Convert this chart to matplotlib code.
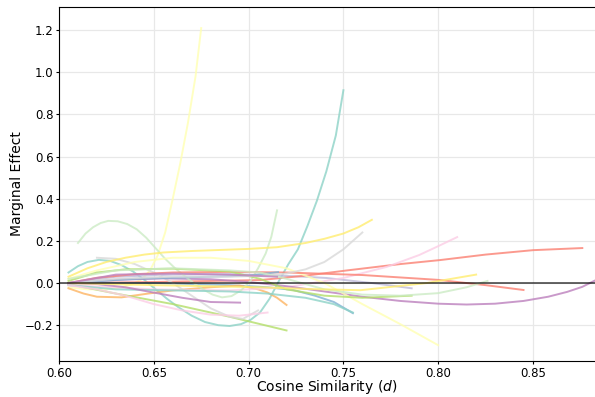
import matplotlib
matplotlib.use("Agg")
import matplotlib.pyplot as plt

# marginal effect curves, one per group (x = cosine similarity, y = effect)
teal_x = [0.605, 0.61, 0.615, 0.621, 0.627, 0.633, 0.639, 0.645, 0.651, 0.657, 0.663, 0.67, 0.677, 0.684, 0.69,
          0.696, 0.701, 0.706, 0.711, 0.716, 0.721, 0.726, 0.731, 0.736, 0.741, 0.746, 0.75]
teal_y = [0.05, 0.08, 0.10, 0.11, 0.105, 0.085, 0.055, 0.015, -0.03, -0.075, -0.115, -0.155, -0.185, -0.2, -0.204,
          -0.195, -0.175, -0.14, -0.075, 0.01, 0.09, 0.16, 0.27, 0.39, 0.53, 0.70, 0.915]

paleyellow_x = [0.605, 0.615, 0.625, 0.633, 0.639, 0.644, 0.648, 0.652, 0.656, 0.66, 0.664, 0.668, 0.672, 0.675]
paleyellow_y = [-0.02, -0.03, -0.03, -0.02, -0.005, 0.02, 0.06, 0.13, 0.24, 0.40, 0.57, 0.76, 0.98, 1.21]

lavender_x = [0.605, 0.63, 0.66, 0.69, 0.706, 0.725, 0.741, 0.765, 0.786]
lavender_y = [0.0, 0.03, 0.04, 0.042, 0.038, 0.032, 0.024, 0.0, -0.025]

salmon_x = [0.605, 0.65, 0.706, 0.73, 0.752, 0.78, 0.801, 0.825, 0.85, 0.876]
salmon_y = [0.0, 0.005, 0.014, 0.035, 0.06, 0.09, 0.109, 0.135, 0.156, 0.166]

blue_x = [0.605, 0.65, 0.69, 0.71, 0.7235, 0.735, 0.745, 0.755]
blue_y = [0.0, 0.0, -0.01, -0.02, -0.033, -0.06, -0.09, -0.143]

orange_x = [0.605, 0.613, 0.62, 0.633, 0.647, 0.66, 0.68, 0.695, 0.70, 0.705, 0.71, 0.715, 0.72]
orange_y = [-0.025, -0.05, -0.065, -0.068, -0.05, -0.035, -0.02, -0.012, -0.02, -0.03, -0.045, -0.07, -0.104]

green_x = [0.605, 0.63, 0.66, 0.69, 0.72]
green_y = [-0.005, -0.05, -0.10, -0.16, -0.225]

pink_x = [0.605, 0.65, 0.69, 0.72, 0.75, 0.773, 0.79, 0.80, 0.81]
pink_y = [-0.01, -0.03, -0.035, -0.02, 0.024, 0.077, 0.133, 0.175, 0.218]

gray_x = [0.62, 0.63, 0.64, 0.65, 0.66, 0.67, 0.68, 0.69, 0.697, 0.705]
gray_y = [0.12, 0.115, 0.09, 0.05, 0.0, -0.06, -0.12, -0.16, -0.17, -0.13]

purple_x = [0.605, 0.63, 0.655, 0.68, 0.70, 0.72, 0.74, 0.76, 0.78, 0.80, 0.815, 0.83, 0.845, 0.858, 0.868,
            0.876, 0.8827]
purple_y = [0.0, 0.015, 0.022, 0.018, 0.005, -0.015, -0.04, -0.065, -0.085, -0.098, -0.102, -0.098, -0.085,
            -0.065, -0.042, -0.018, 0.012]

mint_x = [0.61, 0.614, 0.618, 0.622, 0.626, 0.631, 0.636, 0.641, 0.646, 0.651, 0.656, 0.661, 0.666, 0.671,
          0.676, 0.681, 0.686, 0.691, 0.696, 0.701, 0.705, 0.709, 0.712, 0.715]
mint_y = [0.19, 0.235, 0.265, 0.285, 0.295, 0.293, 0.28, 0.255, 0.215, 0.165, 0.115, 0.072, 0.035, 0.0,
          -0.03, -0.055, -0.068, -0.062, -0.035, 0.01, 0.07, 0.14, 0.22, 0.345]

yellow_x = [0.605, 0.615, 0.625, 0.635, 0.645, 0.655, 0.67, 0.685, 0.70, 0.715, 0.73, 0.74, 0.75, 0.758, 0.765]
yellow_y = [0.03, 0.07, 0.10, 0.12, 0.135, 0.145, 0.152, 0.157, 0.162, 0.17, 0.19, 0.21, 0.235, 0.265, 0.30]

teal2_x = [0.605, 0.63, 0.66, 0.69, 0.71, 0.73, 0.745, 0.755]
teal2_y = [-0.01, -0.03, -0.035, -0.04, -0.05, -0.07, -0.10, -0.14]

paleyellow2_x = [0.605, 0.62, 0.64, 0.66, 0.68, 0.70, 0.72, 0.74, 0.76, 0.78, 0.80]
paleyellow2_y = [0.02, 0.06, 0.10, 0.12, 0.12, 0.105, 0.07, 0.0, -0.10, -0.195, -0.295]

salmon2_x = [0.605, 0.62, 0.64, 0.66, 0.69, 0.72, 0.76, 0.80, 0.825, 0.845]
salmon2_y = [0.0, 0.025, 0.042, 0.05, 0.053, 0.05, 0.038, 0.015, -0.01, -0.033]

blue2_x = [0.605, 0.64, 0.68, 0.70, 0.7155]
blue2_y = [0.0, 0.02, 0.03, 0.035, 0.052]

green2_x = [0.605, 0.62, 0.635, 0.66, 0.69, 0.706, 0.72, 0.74, 0.76, 0.786]
green2_y = [0.01, 0.05, 0.065, 0.068, 0.055, 0.02, -0.03, -0.06, -0.07, -0.06]

pink2_x = [0.605, 0.62, 0.635, 0.65, 0.665, 0.68, 0.695, 0.71]
pink2_y = [-0.01, -0.03, -0.06, -0.10, -0.13, -0.15, -0.155, -0.14]

gray2_x = [0.605, 0.63, 0.66, 0.69, 0.71, 0.72, 0.73, 0.74, 0.75, 0.76]
gray2_y = [0.0, 0.02, 0.03, 0.03, 0.035, 0.045, 0.065, 0.10, 0.16, 0.24]

purple2_x = [0.605, 0.62, 0.635, 0.648, 0.665, 0.68, 0.6955]
purple2_y = [0.0, -0.005, -0.02, -0.042, -0.07, -0.09, -0.093]

mint2_x = [0.605, 0.63, 0.66, 0.69, 0.706, 0.72, 0.74, 0.76, 0.78, 0.80, 0.815, 0.826]
mint2_y = [0.02, 0.06, 0.07, 0.06, 0.05, 0.02, -0.03, -0.055, -0.06, -0.048, -0.02, 0.01]

yellow2_x = [0.605, 0.65, 0.706, 0.73, 0.759, 0.794, 0.82]
yellow2_y = [0.0, -0.01, -0.02, -0.028, -0.034, 0.0, 0.04]

purple3_x = [0.605, 0.63, 0.66, 0.69, 0.715]
purple3_y = [0.0, 0.04, 0.045, 0.04, 0.03]

curves = [
    (teal_x, teal_y, "#8dd3c7"),
    (paleyellow_x, paleyellow_y, "#ffffb3"),
    (lavender_x, lavender_y, "#bebada"),
    (salmon_x, salmon_y, "#fb8072"),
    (blue_x, blue_y, "#80b1d3"),
    (orange_x, orange_y, "#fdb462"),
    (green_x, green_y, "#b3de69"),
    (pink_x, pink_y, "#fccde5"),
    (gray_x, gray_y, "#d9d9d9"),
    (purple_x, purple_y, "#bc80bd"),
    (mint_x, mint_y, "#ccebc5"),
    (yellow_x, yellow_y, "#ffed6f"),
    (teal2_x, teal2_y, "#8dd3c7"),
    (paleyellow2_x, paleyellow2_y, "#ffffb3"),
    (salmon2_x, salmon2_y, "#fb8072"),
    (blue2_x, blue2_y, "#80b1d3"),
    (green2_x, green2_y, "#b3de69"),
    (pink2_x, pink2_y, "#fccde5"),
    (gray2_x, gray2_y, "#d9d9d9"),
    (purple2_x, purple2_y, "#bc80bd"),
    (mint2_x, mint2_y, "#ccebc5"),
    (yellow2_x, yellow2_y, "#ffed6f"),
    (purple3_x, purple3_y, "#bc80bd"),
]

fig = plt.figure(figsize=(5.95, 3.97), dpi=100)
ax = fig.add_axes([59 / 595, 1 - 361 / 397, 1 - 59 / 595, 354 / 397])

for xs, ys, c in curves:
    ax.plot(xs, ys, color=c, lw=1.4, alpha=0.8)

ax.axhline(0, color="black", lw=1.2, alpha=0.7, zorder=5)

ax.set_xlim(0.60, 0.8827)
ax.set_ylim(-0.37, 1.31)
ax.set_xticks([0.60, 0.65, 0.70, 0.75, 0.80, 0.85])
ax.set_yticks([-0.2, 0.0, 0.2, 0.4, 0.6, 0.8, 1.0, 1.2])
ax.grid(True, color="#e8e8e8", lw=0.9)
ax.set_axisbelow(True)
ax.spines["right"].set_visible(False)
ax.tick_params(labelsize=8.5, length=2.5, pad=1.5)
ax.set_xlabel("Cosine Similarity ($d$)", fontsize=10, labelpad=-1)
ax.set_ylabel("Marginal Effect", fontsize=10, labelpad=0.5)

fig.savefig("out.png", dpi=100)
